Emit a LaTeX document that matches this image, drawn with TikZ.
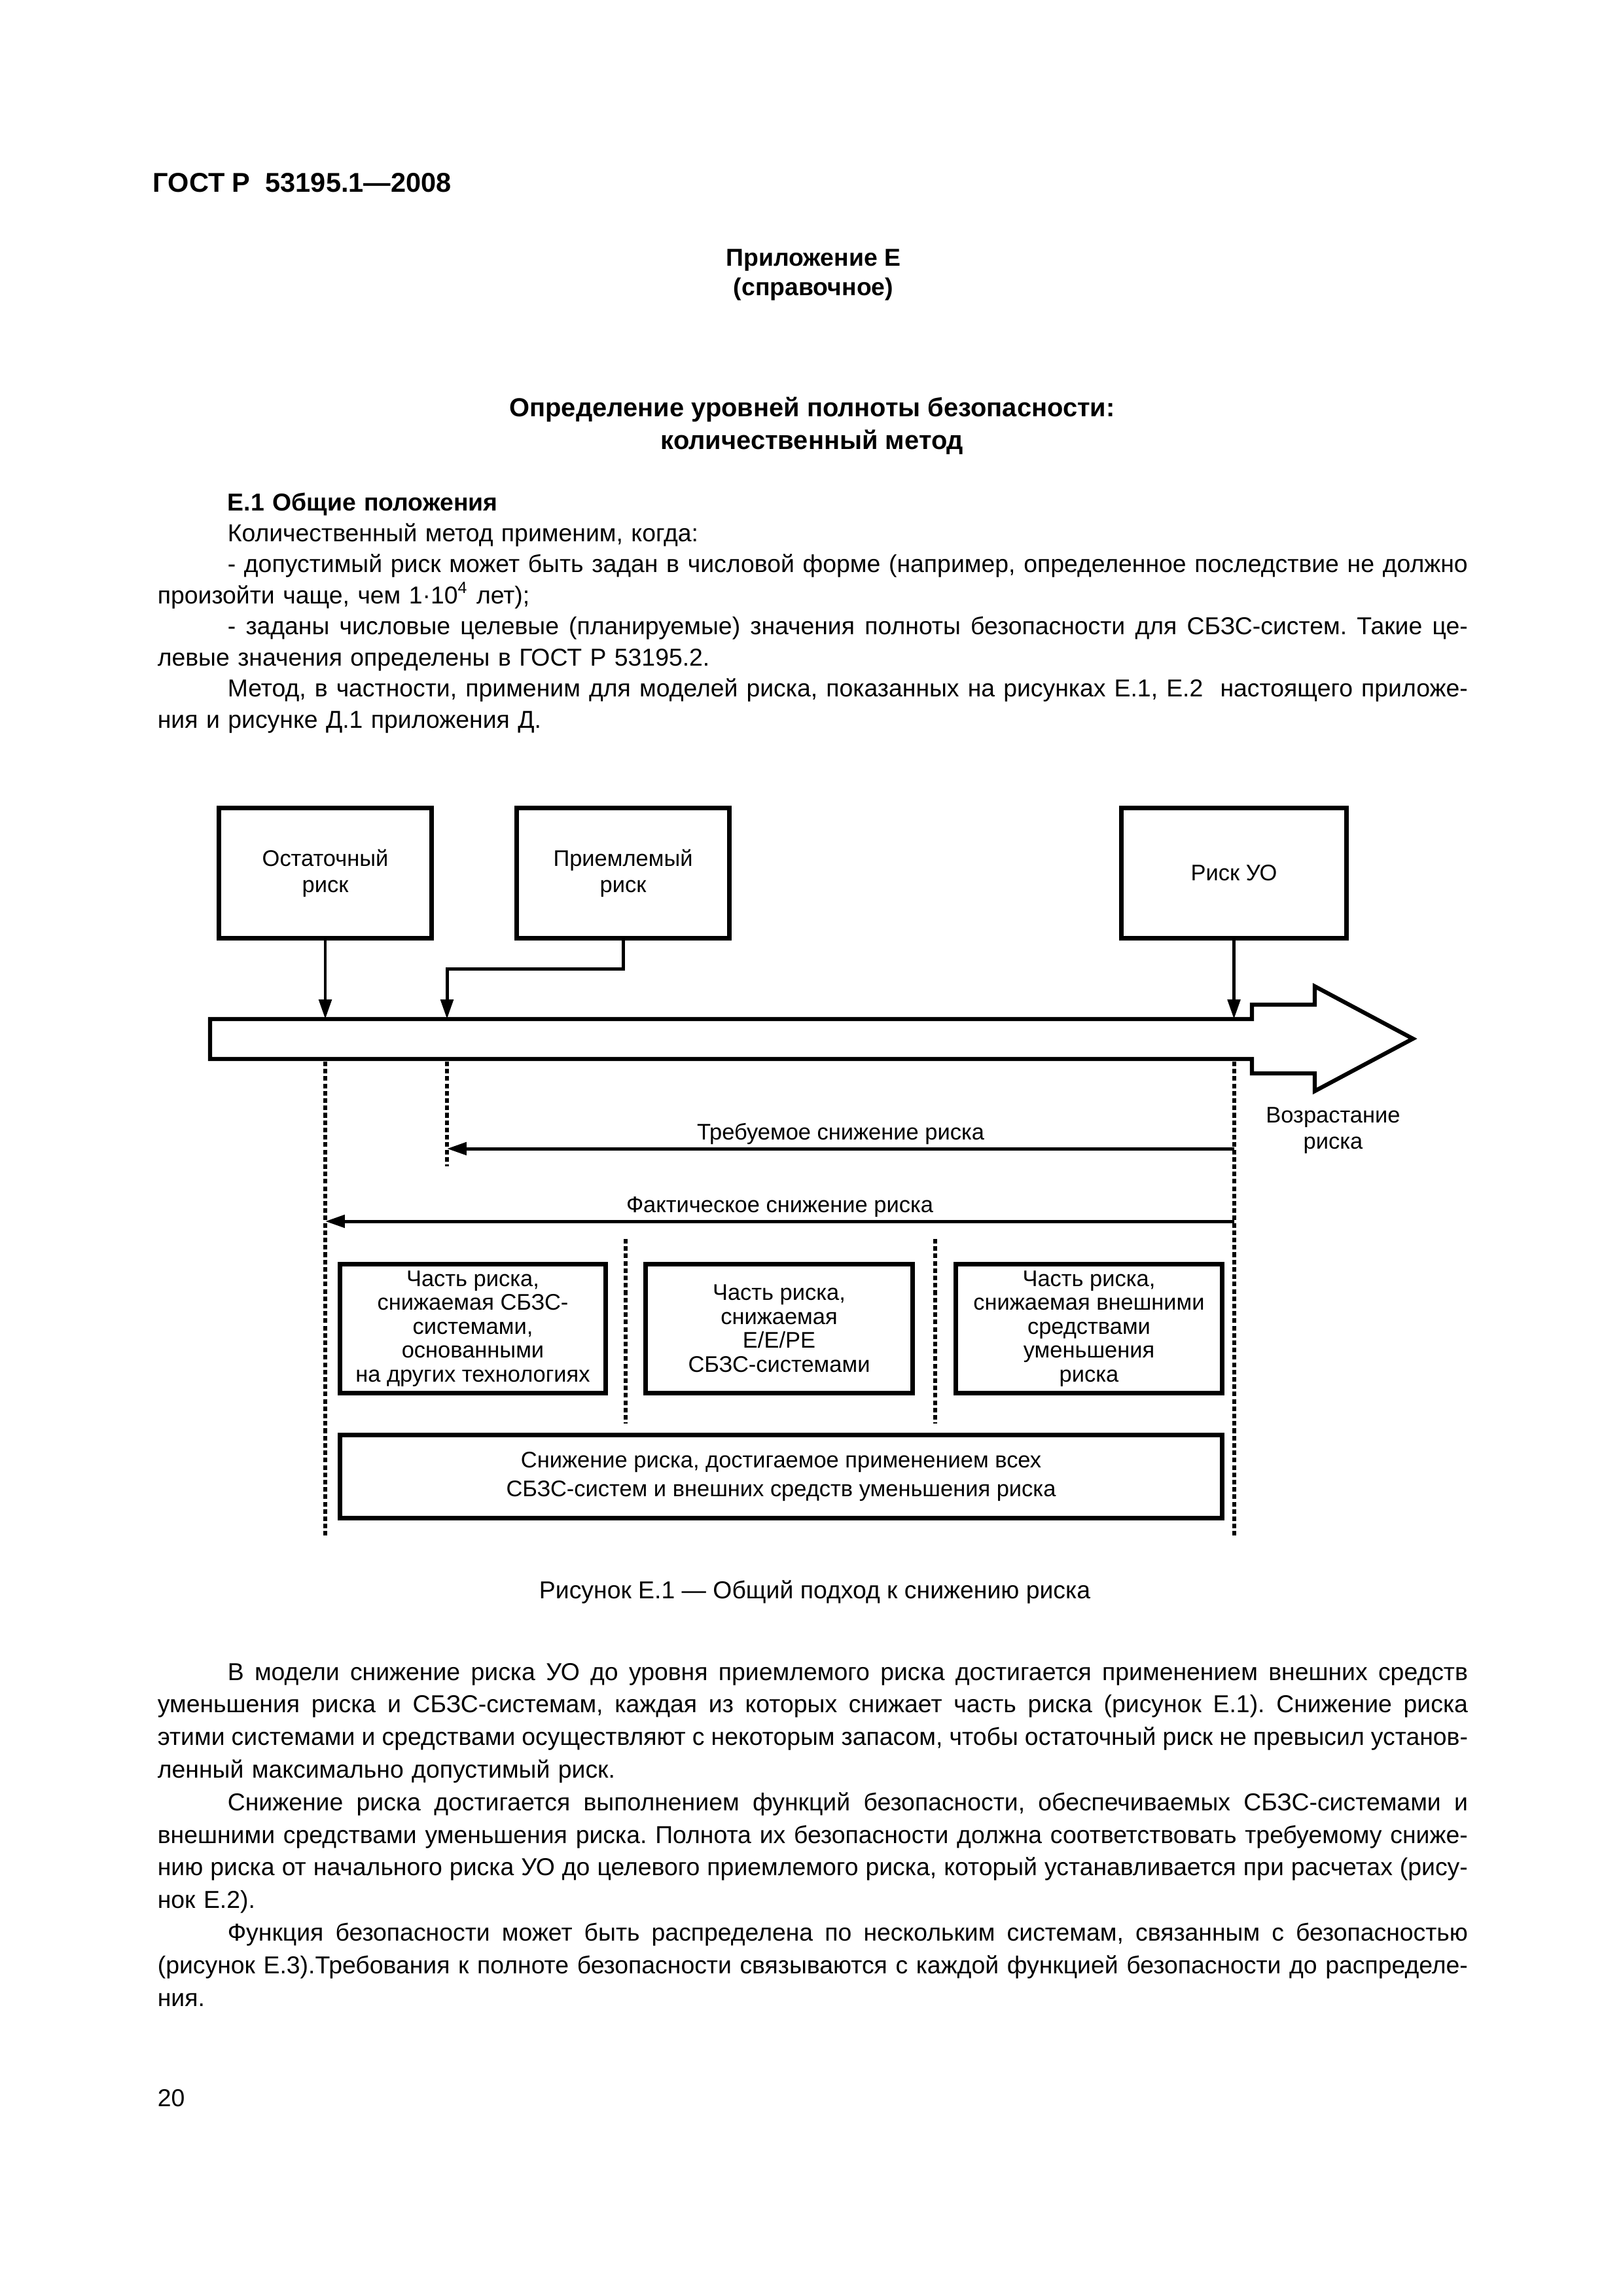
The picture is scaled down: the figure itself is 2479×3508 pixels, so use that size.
\documentclass[tikz,border=0pt]{standalone}
\usepackage{fontspec}
\setmainfont{Liberation Sans}
\usetikzlibrary{arrows.meta}

\newcommand{\pxl}{0.24088pt}
\newcommand{\fl}[1]{\makebox[482.24pt][s]{\spaceskip=0.278em plus 0.4em minus 0.2em\relax #1}}
\newcommand{\ind}{\hspace*{25.77pt}}
\frenchspacing

\tikzset{
  box/.style={draw, line width=1.7pt, inner sep=0pt, align=center, font=\fontsize{8.3}{9.6}\selectfont},
  topbox/.style={box, minimum width=325*\pxl, minimum height=199*\pxl},
  partbox/.style={box, minimum width=406*\pxl, minimum height=197*\pxl, font=\fontsize{8.3}{8.8}\selectfont},
  band/.style={line width=1.5pt},
  arr/.style={line width=1.2pt, -{Triangle[length=7.2pt,width=4.6pt]}},
  guide/.style={line width=1.3pt, dash pattern=on 1.7pt off 1pt},
  lbl/.style={font=\fontsize{8.3}{9.6}\selectfont, align=center},
  bodytext/.style={font=\fontsize{9}{11.44}\selectfont, inner sep=0pt, text width=482.24pt, align=left, anchor=base west},
  heading/.style={font=\fontsize{9}{11.44}\selectfont\bfseries, inner sep=0pt, anchor=base},
}

\begin{document}
\begin{tikzpicture}[x=0.24088pt, y=-0.24088pt]
        \fill[white] (0,0) rectangle (2479,3508);
        \node[font=\fontsize{10}{12}\selectfont\bfseries, anchor=base west, inner sep=0pt] (gost) at (233,294) {ГОСТ Р\ \ 53195.1—2008};
        \node[heading] (app) at (1243,407) {Приложение Е};
        \node[heading] (kind) at (1243,452) {(справочное)};
        \node[heading, font=\fontsize{9.6}{12}\selectfont\bfseries] (ttl) at (1241,637) {Определение уровней полноты безопасности:};
        \node[heading, font=\fontsize{9.6}{12}\selectfont\bfseries] (ttlb) at (1241,687) {количественный метод};
        \node[bodytext] (sect) at (240,780) {%
\ind\textbf{Е.1 Общие положения}\\
\ind Количественный метод применим, когда:\\
\fl{\ind- допустимый риск может быть задан в числовой форме (например, определенное последствие не должно}\\
произойти чаще, чем 1·10\textsuperscript{4} лет);\\
\fl{\ind- заданы числовые целевые (планируемые) значения полноты безопасности для СБЗС-систем. Такие це-}\\
левые значения определены в ГОСТ Р 53195.2.\\
\fl{\ind Метод, в частности, применим для моделей риска, показанных на рисунках Е.1, Е.2 \ настоящего приложе-}\\
ния и рисунке Д.1 приложения Д.};

        \node[topbox] (ost) at (497,1334) {Остаточный\\риск};
        \node[topbox] (prm) at (952,1334) {Приемлемый\\риск};
        \node[topbox, minimum width=344*\pxl] (uo) at (1885.5,1334) {Риск УО};
        \draw[band] (321,1557) -- (1913,1557) -- (1913,1535) -- (2009,1535) -- (2009,1507) -- (2159,1587)
            -- (2009,1667) -- (2009,1640) -- (1913,1640) -- (1913,1618) -- (321,1618) -- cycle;
        \coordinate (b1) at (497,1557);
        \coordinate (b2) at (683,1557);
        \coordinate (b3) at (1885.5,1557);
        \coordinate (kn) at (952,1480);
        \draw[arr] (ost.south) -- (b1);
        \draw[arr] (prm.south) -- (kn) -| (b2);
        \draw[arr] (uo.south) -- (b3);
        \node[lbl] (grow) at (2037,1727) {Возрастание\\риска};

        \coordinate (g1t) at (497,1622);
        \coordinate (g1b) at (497,2348);
        \coordinate (g2t) at (683,1622);
        \coordinate (g2b) at (683,1782);
        \coordinate (g3t) at (1886,1622);
        \coordinate (g3b) at (1886,2348);
        \coordinate (g4t) at (956,1893);
        \coordinate (g4b) at (956,2175);
        \coordinate (g5t) at (1429,1893);
        \coordinate (g5b) at (1429,2175);
        \draw[guide] (g1t) -- (g1b);
        \draw[guide] (g2t) -- (g2b);
        \draw[guide] (g3t) -- (g3b);
        \draw[guide] (g4t) -- (g4b);
        \draw[guide] (g5t) -- (g5b);

        \coordinate (rq) at (1886,1755);
        \coordinate (rqe) at (683,1755);
        \coordinate (ac) at (1886,1866);
        \coordinate (ace) at (497,1866);
        \draw[arr] (rq) -- (rqe) node[lbl, midway, above, inner sep=1pt] (rqt) {Требуемое снижение риска};
        \draw[arr] (ac) -- (ace) node[lbl, midway, above, inner sep=1pt] (act) {Фактическое снижение риска};

        \node[partbox] (pa) at (722.5,2030) {Часть риска,\\снижаемая СБЗС-\\системами,\\основанными\\на других технологиях};
        \node[partbox, minimum width=408*\pxl] (pb) at (1190.5,2030) {Часть риска,\\снижаемая\\Е/Е/РЕ\\СБЗС-системами};
        \node[partbox, minimum width=407*\pxl] (pc) at (1664,2030) {Часть риска,\\снижаемая внешними\\средствами\\уменьшения\\риска};
        \node[box, minimum width=1348*\pxl, minimum height=127*\pxl, font=\fontsize{8.3}{10.4}\selectfont] (all) at (1193.5,2256)
            {Снижение риска, достигаемое применением всех\\СБЗС-систем и внешних средств уменьшения риска};

        \node[heading, font=\fontsize{9}{11.44}\selectfont] (cap) at (1245,2442) {Рисунок Е.1 — Общий подход к снижению риска};
        \node[bodytext, font=\fontsize{9}{12}\selectfont] (txt) at (240,2567) {%
\fl{\ind В модели снижение риска УО до уровня приемлемого риска достигается применением внешних средств}\\
\fl{уменьшения риска и СБЗС-системам, каждая из которых снижает часть риска (рисунок Е.1). Снижение риска}\\
\fl{этими системами и средствами осуществляют с некоторым запасом, чтобы остаточный риск не превысил установ-}\\
ленный максимально допустимый риск.\\
\fl{\ind Снижение риска достигается выполнением функций безопасности, обеспечиваемых СБЗС-системами и}\\
\fl{внешними средствами уменьшения риска. Полнота их безопасности должна соответствовать требуемому сниже-}\\
\fl{нию риска от начального риска УО до целевого приемлемого риска, который устанавливается при расчетах (рису-}\\
нок Е.2).\\
\fl{\ind Функция безопасности может быть распределена по нескольким системам, связанным с безопасностью}\\
\fl{(рисунок Е.3).Требования к полноте безопасности связываются с каждой функцией безопасности до распределе-}\\
ния.};
        \node[font=\fontsize{9}{11.44}\selectfont, anchor=base west, inner sep=0pt] (pg) at (240,3218) {20};
    \end{tikzpicture}
\end{document}
